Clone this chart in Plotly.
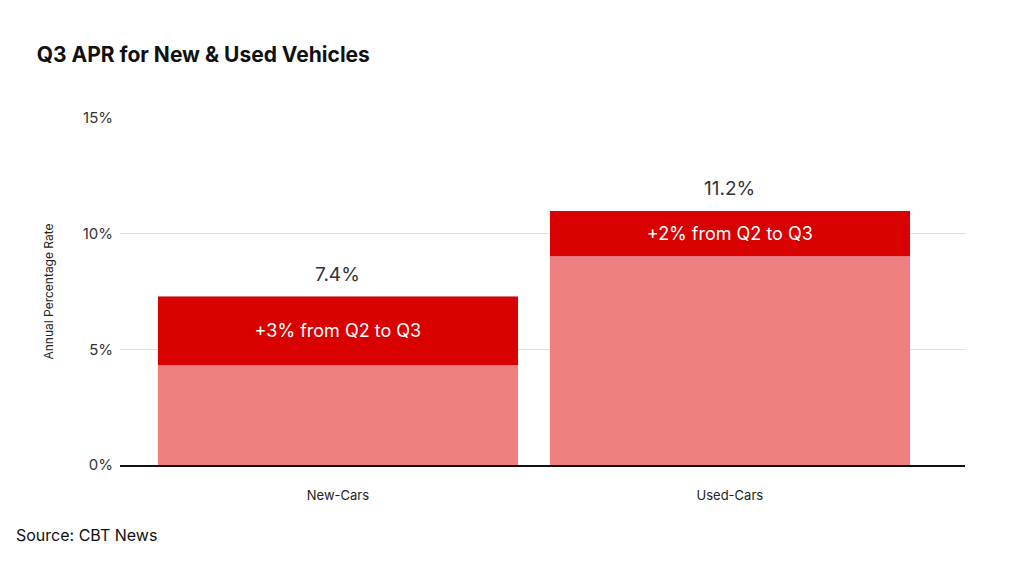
import plotly.graph_objects as go

categories = ["New-Cars", "Used-Cars"]
q2_base = [4.3, 9.0]
increase = [3.0, 2.0]
increase_labels = ["+3% from Q2 to Q3", "+2% from Q2 to Q3"]
total_labels = ["7.4%", "11.2%"]
xi = [0, 1]

fig = go.Figure()
fig.add_bar(x=xi, y=q2_base, marker_color="#ED7F7F", width=0.92, hoverinfo="skip")
fig.add_bar(x=xi, y=increase, marker_color="#D90000", width=0.92,
            text=increase_labels, textposition="inside", insidetextanchor="middle",
            textfont=dict(color="white", size=18, family="Inter"))
tops = [a + b for a, b in zip(q2_base, increase)]
for x, t, lab in zip(xi, tops, total_labels):
    fig.add_annotation(x=x, y=t, text=lab, showarrow=False, yshift=22,
                       font=dict(size=19, color="#333", family="Inter"))

fig.update_layout(
    barmode="stack", showlegend=False, width=1024, height=565,
    paper_bgcolor="white", plot_bgcolor="white",
    margin=dict(l=112, r=67, t=110, b=108),
    font=dict(family="Inter", color="#222"),
    title=dict(text="<b>Q3 APR for New & Used Vehicles</b>", x=0.028, xanchor="left",
               y=0.917, yanchor="middle", font=dict(size=21, color="#111")),
    xaxis=dict(range=[-0.556, 1.6], tickvals=xi, ticktext=categories,
               tickfont=dict(size=13), showgrid=False, showline=True,
               linecolor="#111", linewidth=1.5, ticks="", ticklabelstandoff=18),
    yaxis=dict(range=[0, 15], tickvals=[0, 5, 10, 15], ticktext=["0%", "5%", "10%", "15%"],
               tickfont=dict(size=15, color="#333"), gridcolor="#dddddd", zeroline=False,
               ticklabelstandoff=6,
               title=dict(text="Annual Percentage Rate", font=dict(size=12), standoff=26)),
)
fig.add_annotation(xref="paper", yref="paper", x=-0.125, y=-0.202, xanchor="left",
                   yanchor="middle", text="Source: CBT News", showarrow=False,
                   font=dict(size=16, color="#111"))
fig.write_html("out.html")
